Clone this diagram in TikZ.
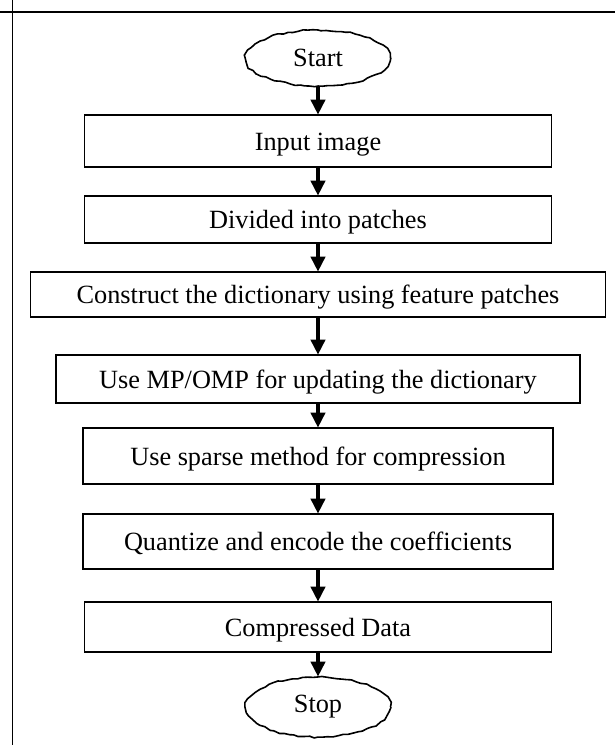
\documentclass[tikz,border=0pt]{standalone}
\usepackage{fontspec}
\setmainfont{Liberation Serif}
\usetikzlibrary{arrows.meta,shapes.geometric,decorations.pathmorphing}
\begin{document}
\begin{tikzpicture}[x=1pt,y=-1pt,
  stepbox/.style={draw,line width=1.6pt,minimum width=#1,inner sep=0pt,
    text height=21pt,text depth=3pt,
    font=\fontsize{26.3}{30}\selectfont},
  termnode/.style={ellipse,draw,line width=1.6pt,inner sep=0pt,
    minimum width=145pt,minimum height=56pt,
    decorate,decoration={random steps,segment length=5pt,amplitude=0.9pt},
    font=\fontsize{26.3}{30}\selectfont},
  flow/.style={line width=3.7pt,-{Triangle[length=15pt,width=14pt]},shorten >=-0.5pt}]
\pgfmathsetseed{7}
\useasboundingbox (0,0) rectangle (615,745);
\fill[white] (0,0) rectangle (615,745);
\coordinate (ftop) at (12,0);
\coordinate (fbot) at (12,745);
\coordinate (hl) at (0,12);
\coordinate (hr) at (615,12);
\draw[line width=1pt] (ftop) -- (fbot);
\draw[line width=2pt] (hl) -- (hr);

\node[termnode] (start) at (318,58) {Start};
\node[stepbox=467pt,minimum height=52pt] (input) at (318,141) {Input image};
\node[stepbox=467pt,minimum height=47pt] (divide) at (318,219.5) {Divided into patches};
\node[stepbox=575pt,minimum height=45pt] (construct) at (318,294.5) {Construct the dictionary using feature patches};
\node[stepbox=524pt,minimum height=48pt] (update) at (318,379) {Use MP/OMP for updating the dictionary};
\node[stepbox=470pt,minimum height=56pt] (sparse) at (318,456) {Use sparse method for compression};
\node[stepbox=470pt,minimum height=55pt] (quant) at (318,541.5) {Quantize and encode the coefficients};
\node[stepbox=467pt,minimum height=50pt] (comp) at (318,627) {Compressed Data};
\node[termnode,minimum height=60pt] (stop) at (318,707) {Stop};

\draw[flow] (start.south) -- (input.north);
\draw[flow] (input.south) -- (divide.north);
\draw[flow] (divide.south) -- (construct.north);
\draw[flow] (construct.south) -- (update.north);
\draw[flow] (update.south) -- (sparse.north);
\draw[flow] (sparse.south) -- (quant.north);
\draw[flow] (quant.south) -- (comp.north);
\draw[flow] (comp.south) -- (stop.north);
\end{tikzpicture}
\end{document}
